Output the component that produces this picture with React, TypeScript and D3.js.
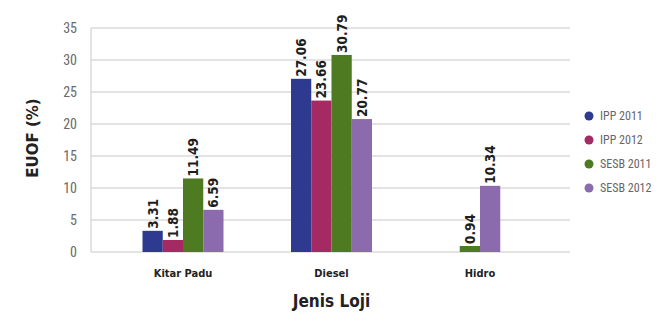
import * as d3 from 'd3'

const categories = ['Kitar Padu', 'Diesel', 'Hidro']
const seriesNames = ['IPP 2011', 'IPP 2012', 'SESB 2011', 'SESB 2012']
const seriesColors = ['#2d3a8f', '#a52a64', '#4e7a22', '#8b6aad']
// values per series, in category order (0 = no bar)
const ipp2011 = [3.31, 27.06, 0]
const ipp2012 = [1.88, 23.66, 0]
const sesb2011 = [11.49, 30.79, 0.94]
const sesb2012 = [6.59, 20.77, 10.34]
const yTicks = [0, 5, 10, 15, 20, 25, 30, 35]

const series = [ipp2011, ipp2012, sesb2011, sesb2012]

const width = 664
const height = 313
const margin = { top: 28, right: 94, bottom: 61, left: 91 }

function App() {
  const innerWidth = width - margin.left - margin.right
  const innerHeight = height - margin.top - margin.bottom

  const yScale = d3.scaleLinear().domain([0, 35]).range([innerHeight, 0])

  const xScale = d3.scalePoint()
    .domain(categories)
    .range([92, 389])

  const groupW = 81

  const font = "'DejaVu Sans Condensed', 'DejaVu Sans', sans-serif"

  return (
    <svg width={width} height={height} style={{ position: 'absolute', left: 0, top: 0 }}>
      <g transform={`translate(${margin.left},${margin.top})`}>
        {yTicks.map(t => (
          <g key={t} transform={`translate(0,${yScale(t)})`}>
            <line x2={innerWidth} stroke="#c8c8c8" strokeWidth={1} />
            <text x={-14} dy="0.35em" textAnchor="end" fontSize={14} fill="#6a6a6a"
              fontFamily="'Roboto Condensed', 'DejaVu Sans Condensed', sans-serif">{t}</text>
          </g>
        ))}
        <line y1={0} y2={innerHeight} stroke="#c8c8c8" />

        {categories.map((c, ci) => {
          const present = seriesNames.filter((_, si) => series[si][ci] > 0)
          const cx = xScale(c) as number
          const inner = d3.scaleBand()
            .domain(present)
            .range([cx - (groupW * present.length) / 8, cx + (groupW * present.length) / 8])
          return (
            <g key={c}>
              {present.map(name => {
                const si = seriesNames.indexOf(name)
                const v = series[si][ci]
                const bx = inner(name) as number
                const bw = inner.bandwidth()
                return (
                  <g key={name}>
                    <rect x={bx} y={yScale(v)} width={bw} height={innerHeight - yScale(v)}
                      fill={seriesColors[si]} />
                    <text transform={`translate(${bx + bw / 2},${yScale(v) - 2}) rotate(-90)`}
                      dy="0.36em" fontSize={13.5} fontWeight="bold" fill="#1e1e1e"
                      fontFamily={font}>{v.toFixed(2)}</text>
                  </g>
                )
              })}
              <text x={cx} y={innerHeight + 25} textAnchor="middle" fontSize={11}
                fontWeight="bold" fill="#222" fontFamily={font}>{c}</text>
            </g>
          )
        })}

        <text x={xScale('Diesel') as number} y={innerHeight + 55} textAnchor="middle"
          fontSize={17} fontWeight="bold" fill="#222" fontFamily={font}>Jenis Loji</text>
        <text transform={`translate(-53,${innerHeight / 2 - 2}) rotate(-90)`} textAnchor="middle"
          fontSize={15} fontWeight="bold" fill="#222"
          fontFamily="'DejaVu Sans', sans-serif">EUOF (%)</text>
      </g>

      <g transform="translate(589,116)">
        {seriesNames.map((name, i) => (
          <g key={name} transform={`translate(0,${i * 24})`}>
            <circle r={4.5} fill={seriesColors[i]} />
            <text x={11} dy="0.35em" fontSize={12} fill="#666"
              fontFamily="'Roboto Condensed', 'DejaVu Sans Condensed', sans-serif">{name}</text>
          </g>
        ))}
      </g>
    </svg>
  )
}

export default App
